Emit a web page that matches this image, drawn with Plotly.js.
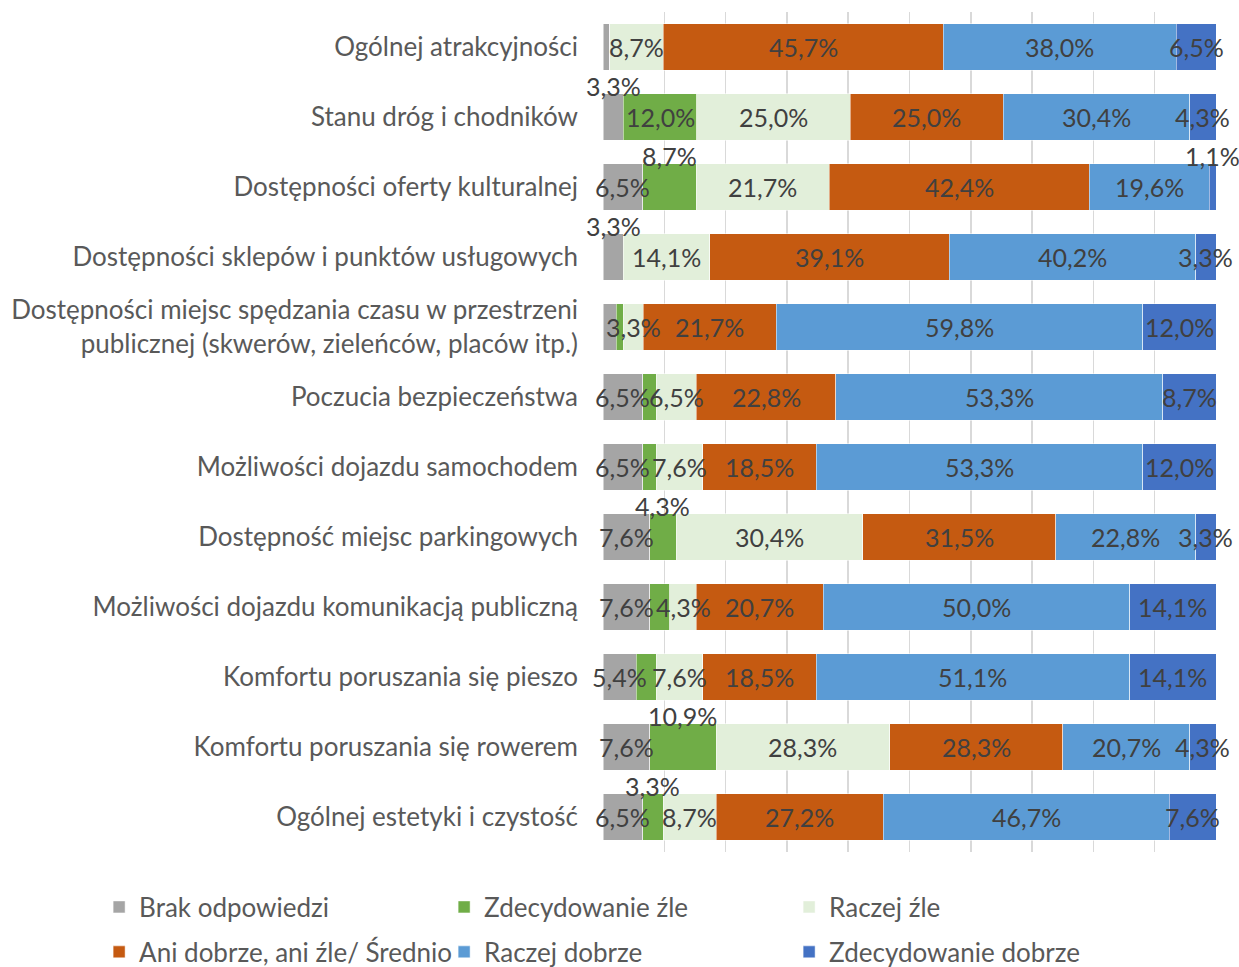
<!DOCTYPE html>
<html>
<head>
<meta charset="utf-8">
<script src="https://cdn.plot.ly/plotly-3.0.1.min.js"></script>
<style>
  html, body { margin: 0; padding: 0; background: #fff; }
  #chart { width: 1239px; height: 967px; }
</style>
</head>
<body>
<div id="chart"></div>
<script>
// categories, top to bottom
const categories = [
    'Ogólnej atrakcyjności',
    'Stanu dróg i chodników',
    'Dostępności oferty kulturalnej',
    'Dostępności sklepów i punktów usługowych',
    'Dostępności miejsc spędzania czasu w przestrzeni<br>publicznej (skwerów, zieleńców, placów itp.)',
    'Poczucia bezpieczeństwa',
    'Możliwości dojazdu samochodem',
    'Dostępność miejsc parkingowych',
    'Możliwości dojazdu komunikacją publiczną',
    'Komfortu poruszania się pieszo',
    'Komfortu poruszania się rowerem',
    'Ogólnej estetyki i czystość'
];

const seriesNames = ['Brak odpowiedzi', 'Zdecydowanie źle', 'Raczej źle',
    'Ani dobrze, ani źle/ Średnio', 'Raczej dobrze', 'Zdecydowanie dobrze'];
const seriesColors = ['#A5A5A5', '#70AD47', '#E2EFDA', '#C55A11', '#5B9BD5', '#4472C4'];

const brak         = [1.1, 3.3, 6.5, 3.3, 2.2, 6.5, 6.5, 7.6, 7.6, 5.4, 7.6, 6.5];
const zdecZle      = [0, 12.0, 8.7, 0, 1.1, 2.2, 2.2, 4.3, 3.3, 3.3, 10.9, 3.3];
const raczejZle    = [8.7, 25.0, 21.7, 14.1, 3.3, 6.5, 7.6, 30.4, 4.3, 7.6, 28.3, 8.7];
const srednio      = [45.7, 25.0, 42.4, 39.1, 21.7, 22.8, 18.5, 31.5, 20.7, 18.5, 28.3, 27.2];
const raczejDobrze = [38.0, 30.4, 19.6, 40.2, 59.8, 53.3, 53.3, 22.8, 50.0, 51.1, 20.7, 46.7];
const zdecDobrze   = [6.5, 4.3, 1.1, 3.3, 12.0, 8.7, 12.0, 3.3, 14.1, 14.1, 4.3, 7.6];

// [series, row] pairs: labels drawn above the bar, and labels not drawn
const raisedLabels = [[0, 1], [0, 3], [1, 2], [1, 7], [1, 10], [1, 11], [5, 2]];
const hiddenLabels = [[0, 0], [0, 4], [1, 0], [1, 3], [1, 4], [1, 5], [1, 6], [1, 8], [1, 9]];

const series = [brak, zdecZle, raczejZle, srednio, raczejDobrze, zdecDobrze];

const FONT = 'Lato, "Open Sans", sans-serif';
const LABEL_COLOR = '#404040';
const AXIS_COLOR = '#595959';

const fmt = v => v.toFixed(1).replace('.', ',') + '%';
const isIn = (list, s, r) => list.some(p => p[0] === s && p[1] === r);

const traces = series.map((vals, s) => ({
    type: 'bar',
    orientation: 'h',
    name: seriesNames[s],
    y: categories,
    x: vals,
    marker: { color: seriesColors[s], line: { color: '#ffffff', width: 0.5 } },
    legend: s < 3 ? 'legend' : 'legend2',
    hoverinfo: 'none'
}));

// data labels as annotations so later segments never cover them
const annotations = [];
series.forEach((vals, s) => {
    vals.forEach((v, r) => {
        if (isIn(hiddenLabels, s, r)) return;
        const total = series.reduce((a, col) => a + col[r], 0);
        let before = 0;
        for (let k = 0; k < s; k++) before += series[k][r];
        const mid = (before + v / 2) / total * 100;
        annotations.push({
            x: mid, y: categories[r], xref: 'x', yref: 'y',
            text: fmt(v), showarrow: false,
            yshift: isIn(raisedLabels, s, r) ? 31 : 0,
            font: { family: FONT, size: 25, color: LABEL_COLOR }
        });
    });
});

const legendBase = {
    orientation: 'h',
    xref: 'paper', yref: 'paper',
    x: -0.822, xanchor: 'left', yanchor: 'middle',
    entrywidth: 300, entrywidthmode: 'pixels',
    font: { family: FONT, size: 26, color: AXIS_COLOR },
    bgcolor: 'rgba(0,0,0,0)',
    traceorder: 'normal'
};

const layout = {
    width: 1239,
    height: 967,
    barmode: 'stack',
    barnorm: 'percent',
    bargap: 0.33,
    margin: { l: 603, r: 23, t: 12, b: 115, autoexpand: false },
    paper_bgcolor: '#ffffff',
    plot_bgcolor: '#ffffff',
    font: { family: FONT, size: 26, color: AXIS_COLOR },
    xaxis: {
        range: [0, 100],
        autorange: false,
        dtick: 10,
        showgrid: true,
        gridcolor: '#D9D9D9',
        gridwidth: 1.5,
        zeroline: false,
        showticklabels: false,
        fixedrange: true
    },
    yaxis: {
        range: [11.5, -0.5],
        autorange: false,
        showgrid: false,
        ticklabelstandoff: 24,
        tickfont: { family: FONT, size: 26, color: AXIS_COLOR },
        fixedrange: true
    },
    showlegend: true,
    legend: Object.assign({}, legendBase, { y: -0.0655 }),
    legend2: Object.assign({}, legendBase, { y: -0.119 }),
    annotations: annotations
};

Plotly.newPlot('chart', traces, layout, { displayModeBar: false, staticPlot: true });
</script>
</body>
</html>
